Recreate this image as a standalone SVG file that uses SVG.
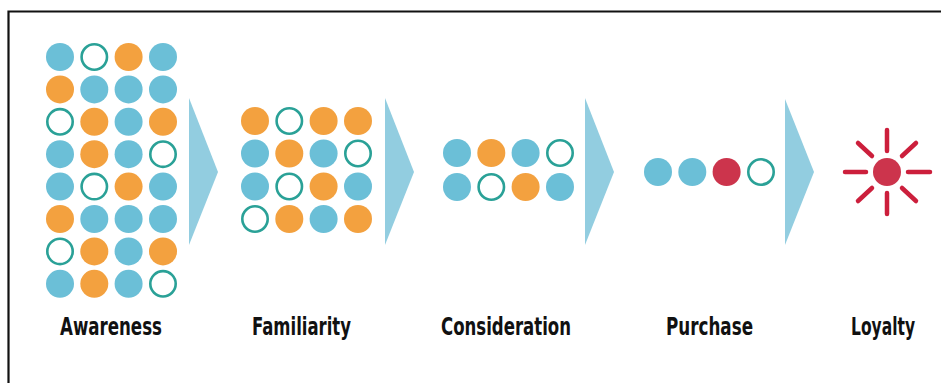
<svg xmlns="http://www.w3.org/2000/svg" width="941" height="383" viewBox="0 0 941 383">
<defs>
<style>
.b{fill:#6bbfd7}
.o{fill:#f3a13f}
.r{fill:#cc344c}
.g{fill:#fff;stroke:#2aa197;stroke-width:2.6}
.arrow{fill:#92cde0}
.ray{stroke:#cc1f3c;stroke-width:4.5;stroke-linecap:round}
.lbl{font-family:"Liberation Sans Narrow","DejaVu Sans Condensed","Liberation Sans",Arial,sans-serif;font-weight:bold;font-size:24px;fill:#111;text-anchor:middle}
</style>
<circle id="B" class="b" r="14"/>
<circle id="O" class="o" r="14"/>
<circle id="G" class="g" r="12.7"/>
</defs>
<rect width="941" height="383" fill="#fff"/>
<path d="M8.5 383 V11.5 H941" fill="none" stroke="#111" stroke-width="2.2"/>

<g id="awareness">
<use href="#B" x="60" y="57"/><use href="#G" x="94.3" y="57"/><use href="#O" x="128.6" y="57"/><use href="#B" x="163" y="57"/>
<use href="#O" x="60" y="89.4"/><use href="#B" x="94.3" y="89.4"/><use href="#B" x="128.6" y="89.4"/><use href="#B" x="163" y="89.4"/>
<use href="#G" x="60" y="121.8"/><use href="#O" x="94.3" y="121.8"/><use href="#B" x="128.6" y="121.8"/><use href="#O" x="163" y="121.8"/>
<use href="#B" x="60" y="154.2"/><use href="#O" x="94.3" y="154.2"/><use href="#B" x="128.6" y="154.2"/><use href="#G" x="163" y="154.2"/>
<use href="#B" x="60" y="186.6"/><use href="#G" x="94.3" y="186.6"/><use href="#O" x="128.6" y="186.6"/><use href="#B" x="163" y="186.6"/>
<use href="#O" x="60" y="219"/><use href="#B" x="94.3" y="219"/><use href="#B" x="128.6" y="219"/><use href="#B" x="163" y="219"/>
<use href="#G" x="60" y="251.4"/><use href="#O" x="94.3" y="251.4"/><use href="#B" x="128.6" y="251.4"/><use href="#O" x="163" y="251.4"/>
<use href="#B" x="60" y="283.8"/><use href="#O" x="94.3" y="283.8"/><use href="#B" x="128.6" y="283.8"/><use href="#G" x="163" y="283.8"/>
<text class="lbl" x="111" y="335" textLength="102" lengthAdjust="spacingAndGlyphs">Awareness</text>
</g>

<g id="familiarity">
<use href="#O" x="255" y="121"/><use href="#G" x="289.3" y="121"/><use href="#O" x="323.6" y="121"/><use href="#O" x="358" y="121"/>
<use href="#B" x="255" y="153.5"/><use href="#O" x="289.3" y="153.5"/><use href="#B" x="323.6" y="153.5"/><use href="#G" x="358" y="153.5"/>
<use href="#B" x="255" y="186.5"/><use href="#G" x="289.3" y="186.5"/><use href="#O" x="323.6" y="186.5"/><use href="#B" x="358" y="186.5"/>
<use href="#G" x="255" y="219"/><use href="#O" x="289.3" y="219"/><use href="#B" x="323.6" y="219"/><use href="#O" x="358" y="219"/>
<text class="lbl" x="301.5" y="335" textLength="99" lengthAdjust="spacingAndGlyphs">Familiarity</text>
</g>

<g id="consideration">
<use href="#B" x="457" y="153"/><use href="#O" x="491.3" y="153"/><use href="#B" x="525.6" y="153"/><use href="#G" x="560" y="153"/>
<use href="#B" x="457" y="187"/><use href="#G" x="491.3" y="187"/><use href="#O" x="525.6" y="187"/><use href="#B" x="560" y="187"/>
<text class="lbl" x="506" y="335" textLength="130" lengthAdjust="spacingAndGlyphs">Consideration</text>
</g>

<g id="purchase">
<use href="#B" x="658" y="172"/><use href="#B" x="692.3" y="172"/><circle class="r" cx="726.6" cy="172" r="14"/><use href="#G" x="761" y="172"/>
<text class="lbl" x="709.5" y="335" textLength="87" lengthAdjust="spacingAndGlyphs">Purchase</text>
</g>

<g id="loyalty">
<circle class="r" cx="887" cy="172" r="14"/>
<g class="ray">
<line x1="887" y1="130" x2="887" y2="151"/>
<line x1="887" y1="193" x2="887" y2="214"/>
<line x1="845" y1="172" x2="866" y2="172"/>
<line x1="908" y1="172" x2="930" y2="172"/>
<line x1="858" y1="143" x2="872" y2="156"/>
<line x1="916" y1="143" x2="902" y2="156"/>
<line x1="858" y1="201" x2="872" y2="188"/>
<line x1="916" y1="201" x2="902" y2="188"/>
</g>
<text class="lbl" x="883" y="335" textLength="64" lengthAdjust="spacingAndGlyphs">Loyalty</text>
</g>

<g id="connectors">
<polygon class="arrow" points="189,98 218,172 189,245"/>
<polygon class="arrow" points="385,98 414,172 385,245"/>
<polygon class="arrow" points="585,98 614,172 585,245"/>
<polygon class="arrow" points="785,99 814,172 785,245"/>
</g>
</svg>
